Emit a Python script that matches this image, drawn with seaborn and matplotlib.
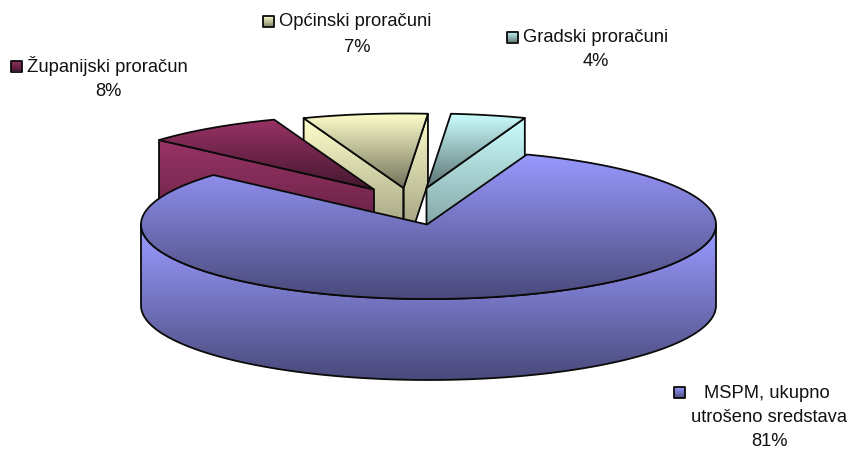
import numpy as np
import matplotlib
matplotlib.use("Agg")
import matplotlib.pyplot as plt
from matplotlib.patches import Polygon
import seaborn as sns

# data
names = ["MSPM, ukupno\nutrošeno sredstava", "Županijski proračun", "Općinski proračuni", "Gradski proračuni"]
shares = [81, 7.8, 7.0, 4.2]
pct_labels = ["81%", "8%", "7%", "4%"]
base_colors = ["#9999FF", "#993366", "#FFFFCC", "#CCFFFF"]

sns.set_theme(style="white")
plt.rcParams['font.family'] = ['Liberation Sans', 'DejaVu Sans']

fig = plt.figure(figsize=(8.51, 4.49), dpi=100)
ax = fig.add_axes([0, 0, 1, 1])
ax.set_axis_off()

cx, cy = 428.5, 224.5
rx, ry = 287.5, 74.5
depth = 81
pulled_depth = 70
start = 70

# slice edges, going clockwise from the start angle
fracs = np.array(shares) / sum(shares)
edges = start - np.concatenate([[0], np.cumsum(fracs)]) * 360


def darker(col, k):
    return tuple(np.array(matplotlib.colors.to_rgb(col)) * k)


def arc(a1, a2, x0, y0):
    t = np.radians(np.linspace(a1, a2, 200))
    return np.column_stack([x0 + rx * np.cos(t), y0 - ry * np.sin(t)])


def face(verts, col, k, y1=None, y2=None, z=1):
    # polygon filled with a vertical gradient, black outline
    verts = np.asarray(verts)
    y1 = verts[:, 1].min() if y1 is None else y1
    y2 = verts[:, 1].max() if y2 is None else y2
    cmap = sns.blend_palette([col, darker(col, k)], as_cmap=True)
    poly = Polygon(verts, closed=True, fc="none", ec="#0a0a0a", lw=1.3, zorder=z + 0.5, joinstyle="round")
    ax.add_patch(poly)
    im = ax.imshow(np.linspace(0, 1, 256)[:, None], cmap=cmap, aspect="auto", zorder=z,
                   extent=(verts[:, 0].min(), verts[:, 0].max(), y2, y1), interpolation="bilinear")
    im.set_clip_path(poly)


def small_slice(i, dx, dy, z):
    a1, a2 = edges[i + 1], edges[i]  # a1 is the clockwise edge
    x0, y0 = cx + dx, cy + dy
    col = base_colors[i]
    ap = np.array([x0, y0])
    bottom = y0 + pulled_depth
    for a, seen in ((a1, np.cos(np.radians(a1)) > 0), (a2, np.cos(np.radians(a2)) < 0)):
        if seen:
            p = arc(a, a, x0, y0)[0]
            face([ap, p, p + [0, pulled_depth], ap + [0, pulled_depth]], col, 0.55, p[1], bottom, z)
    face(np.vstack([[ap], arc(a1, a2, x0, y0)]), col, 0.45, None, None, z + 1)


# pulled out slices, back to front
small_slice(2, -25, -36.5, 2)
small_slice(3, -2, -36.5, 2)
small_slice(1, -54.5, -35, 4)

# main slice
side = np.vstack([arc(180, 360, cx, cy), arc(360, 180, cx, cy + depth)])
face(side, base_colors[0], 0.48, cy + 8, cy + ry + depth, 6)
top = np.vstack([[[cx - 1.5, cy]], arc(edges[0], edges[1], cx, cy)])
face(top, base_colors[0], 0.48, None, None, 7)


def key(x, y, col):
    s = 11
    face([[x, y], [x + s, y], [x + s, y + s], [x, y + s]], col, 0.5, None, None, 9)


txt = dict(fontsize=13.2, color="#111111", ha="center", va="center", zorder=10)
txt_left = dict(txt, ha="left")

key(11, 60.5, base_colors[1])
ax.text(27, 66, names[1], **txt_left)
ax.text(108, 92, pct_labels[1], **txt)

key(262.5, 16, base_colors[2])
ax.text(279, 22, names[2], **txt_left)
ax.text(357, 47, pct_labels[2], **txt)

key(507, 31.5, base_colors[3])
ax.text(523, 37, names[3], **txt_left)
ax.text(596, 62, pct_labels[3], **txt)

key(674, 387, base_colors[0])
line1, line2 = names[0].split("\n")
ax.text(767, 393, line1, **txt)
ax.text(769, 418, line2, **txt)
ax.text(770, 441, pct_labels[0], **txt)

ax.set_xlim(0, 851)
ax.set_ylim(449, 0)
fig.savefig("out.png", dpi=100, facecolor="white")
